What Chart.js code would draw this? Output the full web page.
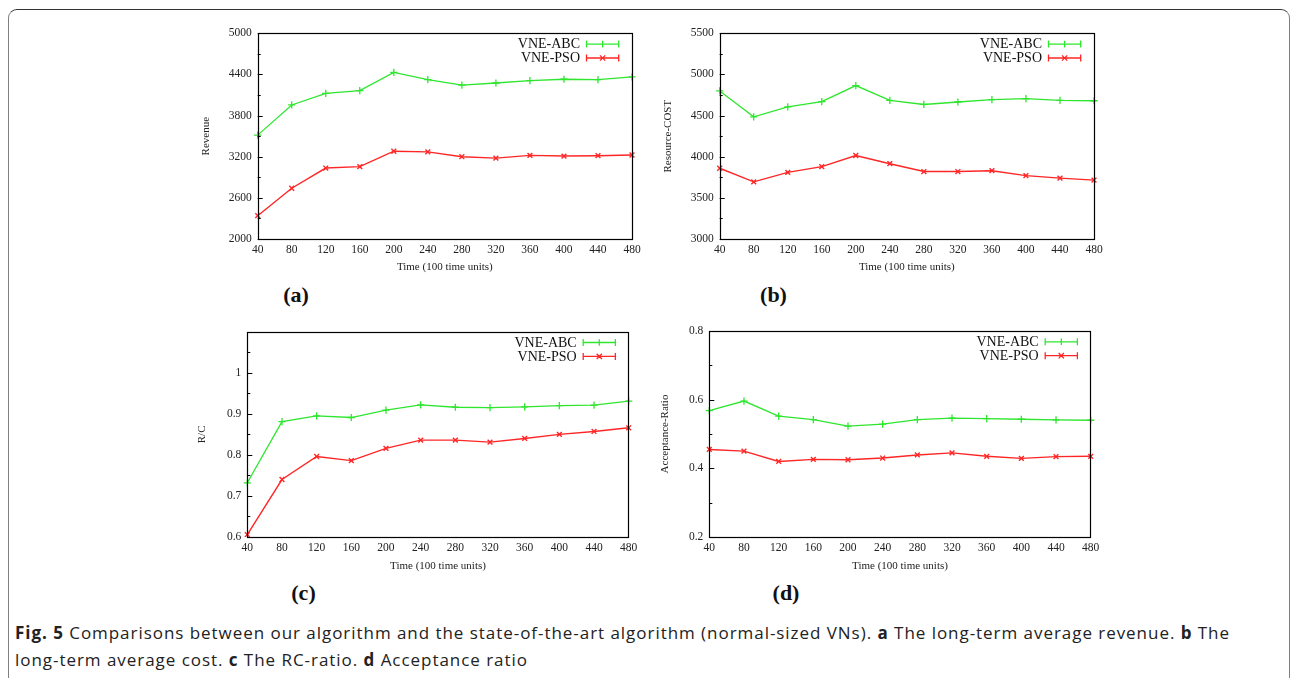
<!DOCTYPE html>
<html><head><meta charset="utf-8">
<script src="https://cdn.jsdelivr.net/npm/chart.js@4.4.0/dist/chart.umd.min.js"></script>
<style>
html,body{margin:0;padding:0;background:#fff;width:1294px;height:678px;overflow:hidden;position:relative}
#frame{position:absolute;left:8px;top:9px;width:1282px;height:720px;border:1.5px solid #808080;border-top-color:#333;border-radius:9px;box-sizing:border-box}
canvas{position:absolute}
.sub{position:absolute;font-family:"Liberation Serif",serif;font-weight:bold;font-size:22px;transform:translate(-50%,-50%);color:#111;line-height:1}
#cap{position:absolute;left:15px;top:619px;font-family:"Open Sans",sans-serif;font-size:17px;color:#222;line-height:27px;white-space:nowrap}
#cap span.l{display:block}
</style></head><body>
<div id="frame"></div>
<div class="sub" style="left:296px;top:295px">(a)</div>
<div class="sub" style="left:773.5px;top:295px">(b)</div>
<div class="sub" style="left:303.5px;top:592.5px">(c)</div>
<div class="sub" style="left:786px;top:592.5px">(d)</div>
<div id="cap"><span class="l" id="l1"><b>Fig. 5</b> Comparisons between our algorithm and the state-of-the-art algorithm (normal-sized VNs). <b>a</b> The long-term average revenue. <b>b</b> The</span><span class="l" id="l2">long-term average cost. <b>c</b> The RC-ratio. <b>d</b> Acceptance ratio</span></div>
<script>
const times = [40,80,120,160,200,240,280,320,360,400,440,480];
const seriesNames = ['VNE-ABC','VNE-PSO'];
const revenueABC = [3515,3955,4125,4165,4430,4325,4245,4275,4310,4330,4325,4365];
const revenuePSO = [2340,2740,3035,3055,3280,3270,3200,3180,3220,3210,3215,3225];
const costABC = [4800,4485,4605,4670,4865,4685,4635,4665,4695,4705,4685,4680];
const costPSO = [3860,3695,3810,3880,4015,3915,3820,3820,3830,3770,3740,3715];
const rcABC = [0.732,0.881,0.895,0.891,0.909,0.922,0.916,0.915,0.917,0.920,0.921,0.931];
const rcPSO = [0.606,0.740,0.796,0.786,0.816,0.836,0.836,0.831,0.840,0.850,0.857,0.866];
const accABC = [0.568,0.596,0.552,0.542,0.523,0.529,0.542,0.546,0.545,0.543,0.541,0.540];
const accPSO = [0.455,0.450,0.420,0.426,0.425,0.430,0.439,0.445,0.435,0.429,0.434,0.435];
const revenueTickLabels = ['2000','2600','3200','3800','4400','5000'];
const costTickLabels = ['3000','3500','4000','4500','5000','5500'];
const rcTickLabels = ['0.6','0.7','0.8','0.9','1'];
const accTickLabels = ['0.2','0.4','0.6','0.8'];
const xTitle = 'Time (100 time units)';

const GREEN = '#2ee62e', RED = '#ff2626';
const SERIF = '"Liberation Serif", "Times New Roman", serif';

function fmt(v){ return String(Number(v.toFixed(3))); }

const gnuPlugin = {
  id: 'gnu',
  afterDraw(chart) {
    const ctx = chart.ctx, a = chart.chartArea, o = chart.options.plugins.gnu;
    const ys = chart.scales.y;
    ctx.save();
    ctx.strokeStyle = '#000'; ctx.lineWidth = 1;
    ys.ticks.forEach(t => {
      const py = Math.round(ys.getPixelForValue(t.value)) + 0.5;
      const major = o.labels.includes(fmt(t.value));
      const len = major ? 5 : 3;
      ctx.beginPath(); ctx.moveTo(a.left, py); ctx.lineTo(a.left + len, py); ctx.stroke();
    });
    ctx.lineWidth = 1.2;
    ctx.strokeStyle = '#000';
    ctx.strokeRect(Math.round(a.left)+0.5, Math.round(a.top)+0.5, Math.round(a.right-a.left), Math.round(a.bottom-a.top));
    chart.data.datasets.forEach((ds, i) => {
      const y = a.top + 10.8 + i * 13.9;
      ctx.font = '14px ' + SERIF;
      ctx.fillStyle = '#111';
      ctx.textAlign = 'right'; ctx.textBaseline = 'middle';
      ctx.fillText(ds.label, a.right - 52, y + 0.5);
      const x0 = a.right - 45.5, x1 = a.right - 13.3, xm = (x0 + x1) / 2;
      ctx.strokeStyle = ds.borderColor; ctx.lineWidth = 1.3;
      ctx.beginPath();
      ctx.moveTo(x0, y); ctx.lineTo(x1, y);
      ctx.moveTo(x0, y - 3.5); ctx.lineTo(x0, y + 3.5);
      ctx.moveTo(x1, y - 3.5); ctx.lineTo(x1, y + 3.5);
      const r = 3.3;
      if (ds.pointStyle === 'cross') {
        ctx.moveTo(xm - r, y); ctx.lineTo(xm + r, y);
        ctx.moveTo(xm, y - r); ctx.lineTo(xm, y + r);
      } else {
        const d = r * 0.8;
        ctx.moveTo(xm - d, y - d); ctx.lineTo(xm + d, y + d);
        ctx.moveTo(xm - d, y + d); ctx.lineTo(xm + d, y - d);
      }
      ctx.stroke();
    });
    ctx.restore();
  }
};

function makeChart(area, yTitleText, yTitleX, xTitleY, abc, pso, yMin, yMax, yStep, yLabels) {
  const cx = Math.floor(area.L - 68), cy = Math.floor(area.T - 14);
  const cw = Math.ceil(area.R - cx + 22), ch = Math.ceil(xTitleY - cy + 14);
  const cv = document.createElement('canvas');
  cv.width = cw; cv.height = ch;
  cv.style.left = cx + 'px'; cv.style.top = cy + 'px';
  cv.style.width = cw + 'px'; cv.style.height = ch + 'px';
  document.body.appendChild(cv);
  const Wy = area.L - cx, pr = cx + cw - area.R, pt = area.T - cy, Hx = cy + ch - area.B;
  const titleFont = { family: SERIF, size: 11, lineHeight: 1.2 };
  const yTitlePad = (yTitleX - cx) - 6.6;
  const xTitlePad = (cy + ch - xTitleY) - 6.6;
  return new Chart(cv, {
    type: 'line',
    data: {
      labels: times.map(String),
      datasets: [
        { label: seriesNames[0], data: abc, borderColor: GREEN, backgroundColor: GREEN, borderWidth: 1.3,
          pointStyle: 'cross', pointRadius: 3.6, pointBorderWidth: 1.3, pointBorderColor: GREEN, tension: 0, fill: false },
        { label: seriesNames[1], data: pso, borderColor: RED, backgroundColor: RED, borderWidth: 1.4,
          pointStyle: 'crossRot', pointRadius: 3.4, pointBorderWidth: 1.4, pointBorderColor: RED, tension: 0, fill: false }
      ]
    },
    options: {
      responsive: false, animation: false, devicePixelRatio: 1,
      layout: { padding: { left: 0, right: pr, top: pt, bottom: 0 } },
      plugins: { legend: { display: false }, tooltip: { enabled: false }, gnu: { labels: yLabels } },
      scales: {
        x: {
          type: 'category', offset: false,
          grid: { display: false, drawTicks: false }, border: { display: false },
          ticks: { color: '#222', font: { family: SERIF, size: 11.5 }, padding: 4, maxRotation: 0, autoSkip: false },
          title: { display: true, text: xTitle, color: '#222', font: titleFont, padding: { top: 0, bottom: xTitlePad } },
          afterFit: s => { s.height = Hx; }
        },
        y: {
          min: yMin, max: yMax,
          grid: { display: false, drawTicks: false }, border: { display: false },
          ticks: { stepSize: yStep, color: '#222', font: { family: SERIF, size: 11.5 }, padding: 6, autoSkip: false,
            callback: v => yLabels.includes(fmt(v)) ? fmt(v) : '' },
          title: { display: true, text: yTitleText, color: '#222', font: titleFont, padding: { top: yTitlePad, bottom: 0 } },
          afterFit: s => { s.width = Wy; }
        }
      }
    },
    plugins: [gnuPlugin]
  });
}

makeChart({L:257.7,R:632,T:33.3,B:239}, 'Revenue', 205.7, 266.7, revenueABC, revenuePSO, 2000, 5000, 300, revenueTickLabels);
makeChart({L:719.7,R:1094,T:33.3,B:239}, 'Resource-COST', 668.3, 266.7, costABC, costPSO, 3000, 5500, 250, costTickLabels);
makeChart({L:247.3,R:628.7,T:331.7,B:537}, 'R/C', 202.3, 565.7, rcABC, rcPSO, 0.6, 1.1, 0.05, rcTickLabels);
makeChart({L:709.3,R:1090.7,T:331,B:537}, 'Acceptance-Ratio', 665, 565.7, accABC, accPSO, 0.2, 0.8, 0.1, accTickLabels);

(function(){
  const l1 = document.getElementById('l1'), l2 = document.getElementById('l2');
  const target = 1215;
  const w = l1.getBoundingClientRect().width;
  const n = l1.textContent.length;
  const ls = (target - w) / n;
  l1.style.letterSpacing = ls + 'px';
  l2.style.letterSpacing = ls + 'px';
})();
</script>
</body></html>
